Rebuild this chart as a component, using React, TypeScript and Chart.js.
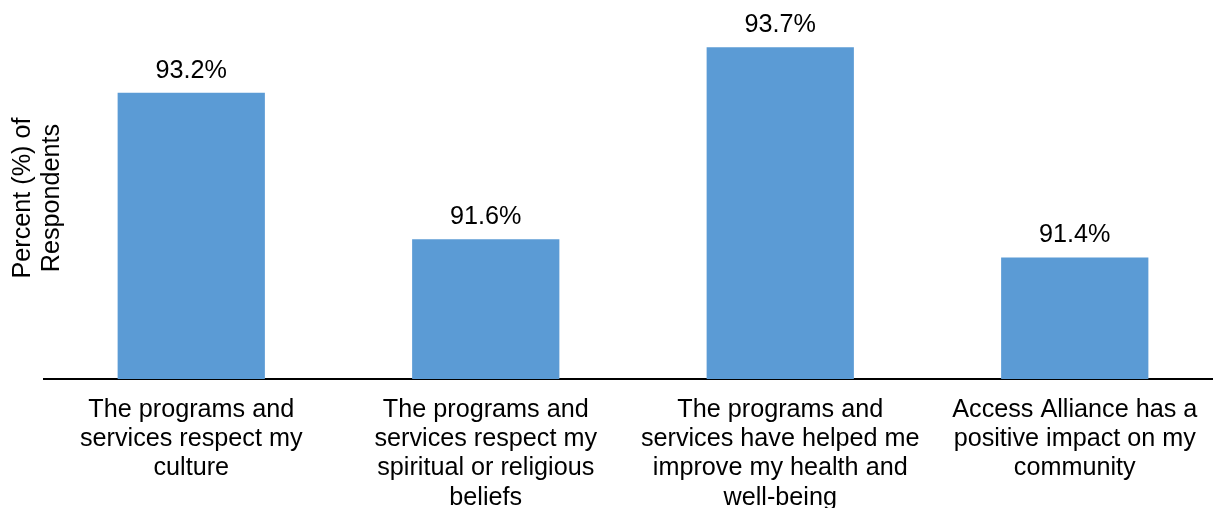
import React, { useEffect, useRef } from "react";
import { Chart, registerables } from "chart.js";

Chart.register(...registerables);

const categories: string[][] = [
  ["The programs and", "services respect my", "culture"],
  ["The programs and", "services respect my", "spiritual or religious", "beliefs"],
  ["The programs and", "services have helped me", "improve my health and", "well-being"],
  ["Access Alliance has a", "positive impact on my", "community"],
];
const values: number[] = [93.2, 91.6, 93.7, 91.4];
const yAxisTitle: string[] = ["Percent (%) of", "Respondents"];
const yMin = 90.07;
const yMax = 94.03;

const FONT = "'Liberation Sans', Arial, sans-serif";
const FONT_SIZE = 25.2;
const LINE_HEIGHT = 1.165;
const BAR_COLOR = "#5B9BD5";

const valueLabels = {
  id: "valueLabels",
  afterDatasetsDraw(chart: any) {
    const ctx = chart.ctx;
    const meta = chart.getDatasetMeta(0);
    ctx.save();
    ctx.font = `${FONT_SIZE}px ${FONT}`;
    ctx.fillStyle = "#000";
    ctx.textAlign = "center";
    ctx.textBaseline = "alphabetic";
    meta.data.forEach((bar: any, i: number) => {
      ctx.fillText(values[i].toFixed(1) + "%", bar.x, bar.y - 15);
    });
    ctx.restore();
  },
};

export default function App() {
  const ref = useRef<HTMLCanvasElement | null>(null);
  useEffect(() => {
    document.body.style.overflow = "hidden";
    if (!ref.current) return;
    const chart = new Chart(ref.current, {
      type: "bar",
      data: {
        labels: categories,
        datasets: [
          {
            data: values,
            backgroundColor: BAR_COLOR,
            borderWidth: 0,
            barPercentage: 0.5,
            categoryPercentage: 1,
          },
        ],
      },
      options: {
        animation: false,
        responsive: true,
        maintainAspectRatio: false,
        layout: { padding: { top: 17, left: 0, right: 0, bottom: 0 } },
        plugins: {
          legend: { display: false },
          tooltip: { enabled: false },
        },
        scales: {
          x: {
            grid: { display: false, drawTicks: false },
            border: { display: true, color: "#000", width: 2 },
            ticks: {
              autoSkip: false,
              maxRotation: 0,
              minRotation: 0,
              padding: 16,
              color: "#000",
              font: { family: FONT, size: FONT_SIZE, lineHeight: LINE_HEIGHT },
            },
            afterFit: (scale: any) => {
              scale.height = 129;
            },
          },
          y: {
            min: yMin,
            max: yMax,
            grid: { display: false, drawTicks: false },
            border: { display: false },
            ticks: { display: false },
            title: {
              display: true,
              text: yAxisTitle,
              color: "#000",
              font: { family: FONT, size: FONT_SIZE, lineHeight: LINE_HEIGHT },
              padding: { top: 8, bottom: 0 },
            },
            afterFit: (scale: any) => {
              scale.width = 44;
            },
          },
        },
      },
      plugins: [valueLabels],
    });
    return () => chart.destroy();
  }, []);

  return (
    <div
      style={{
        position: "fixed",
        left: 0,
        top: 0,
        width: 1222,
        height: 508,
        background: "#fff",
      }}
    >
      <canvas ref={ref} />
    </div>
  );
}
